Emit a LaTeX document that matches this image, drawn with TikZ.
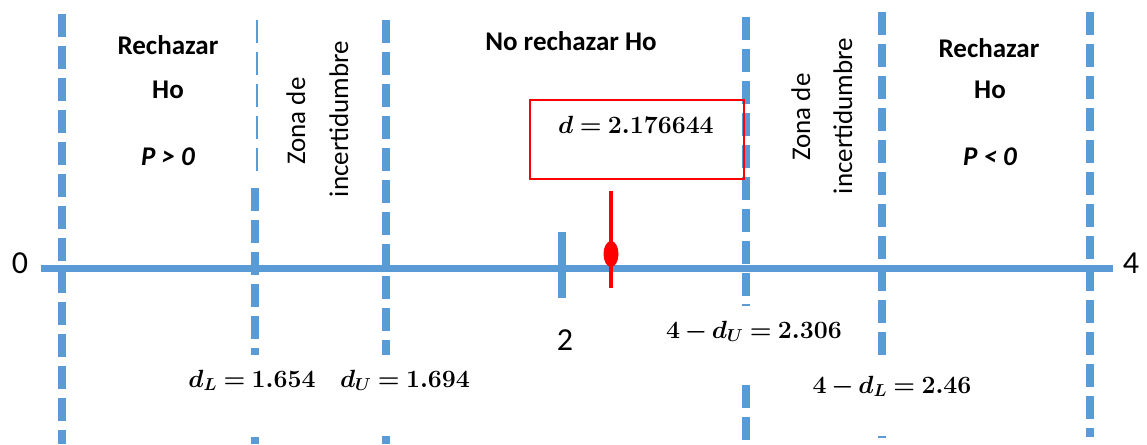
\documentclass[tikz,border=0pt]{standalone}
\usepackage{fontspec}
\setmainfont{Carlito}
\usetikzlibrary{shapes.geometric}
\definecolor{axblue}{HTML}{5B9BD5}
\definecolor{dred}{HTML}{FF0000}
\thickmuskip=4mu plus 2mu
\medmuskip=3mu plus 1mu
\begin{document}
\begin{tikzpicture}[x=1pt,y=-1pt,
  vdash/.style={axblue,line width=8pt,dash pattern=on 23pt off 9pt},
  thindash/.style={axblue,line width=2pt,dash pattern=on 23pt off 9pt},
  lbl/.style={inner sep=0pt,font=\fontsize{27}{32}\selectfont\bfseries},
  zlbl/.style={inner sep=0pt,font=\fontsize{27}{32}\selectfont,rotate=90,anchor=base},
  num/.style={inner sep=0pt,font=\fontsize{32}{38}\selectfont},
  mlbl/.style={inner sep=0pt,font=\fontsize{25}{30}\selectfont\boldmath,anchor=base}]
\useasboundingbox (0,0) rectangle (1147,444);
% vertical dashed lines
\draw[vdash] (62,14) -- (62,444);
\draw[thindash] (257,20) -- (257,172);
\draw[vdash] (254.5,188) -- (254.5,355);
\draw[vdash] (254.5,437) -- (254.5,444);
\draw[vdash] (385.5,20) -- (385.5,355);
\draw[vdash] (385.5,436) -- (385.5,444);
\draw[vdash] (745.5,17) -- (745.5,297);
\draw[axblue,line width=8pt] (745.5,304) -- (745.5,306);
\draw[vdash] (745.5,385) -- (745.5,444);
\draw[vdash] (882,12) -- (882,355);
\draw[axblue,line width=8pt] (882,436) -- (882,438);
\draw[vdash] (1089.5,12) -- (1089.5,437);
% axis
\coordinate (a0) at (41,268.5);
\coordinate (a4) at (1113,268.5);
\draw[axblue,line width=7pt] (a0) -- (a4);
\draw[axblue,line width=8pt] (561.5,232) -- (561.5,298);
% red marker
\node[draw=dred,line width=2pt,minimum width=214pt,minimum height=79pt,anchor=north west,inner sep=0pt] (box) at (529,99) {};
\node[mlbl] (dval) at (636,133) {$d = 2.176644$};
\coordinate (rt) at (611,191);
\coordinate (rb) at (611,288);
\draw[dred,line width=4pt] (rt) -- (rb);
\node[ellipse,fill=dred,minimum width=15pt,minimum height=26pt,inner sep=0pt] (dot) at (611,254) {};
% numbers
\node[num] (n0) at (20,263) {0};
\node[num] (n4) at (1131,263) {4};
\node[num] (n2) at (565,340) {2};
% region labels
\node[lbl,anchor=base] (rl1) at (168,55) {Rechazar};
\node[lbl,anchor=base] (rl2) at (168,98) {Ho};
\node[lbl,anchor=base] (rl3) at (168,165) {\itshape P > 0};
\node[lbl,anchor=base] (rr1) at (989,57) {Rechazar};
\node[lbl,anchor=base] (rr2) at (990,98) {Ho};
\node[lbl,anchor=base] (rr3) at (990,165) {\itshape P < 0};
\node[lbl,anchor=base] (nr) at (571,50) {No rechazar Ho};
\node[zlbl] (zl1) at (305,121) {Zona de};
\node[zlbl] (zl2) at (348,119) {incertidumbre};
\node[zlbl] (zr1) at (810,117) {Zona de};
\node[zlbl] (zr2) at (852,116) {incertidumbre};
% critical values
\node[mlbl] (dl) at (252,387) {$d_L = 1.654$};
\node[mlbl] (du) at (405,387) {$d_U = 1.694$};
\node[mlbl] (du4) at (754,338) {$4 - d_U = 2.306$};
\node[mlbl] (dl4) at (892,393) {$4 - d_L = 2.46$};
\end{tikzpicture}
\end{document}
